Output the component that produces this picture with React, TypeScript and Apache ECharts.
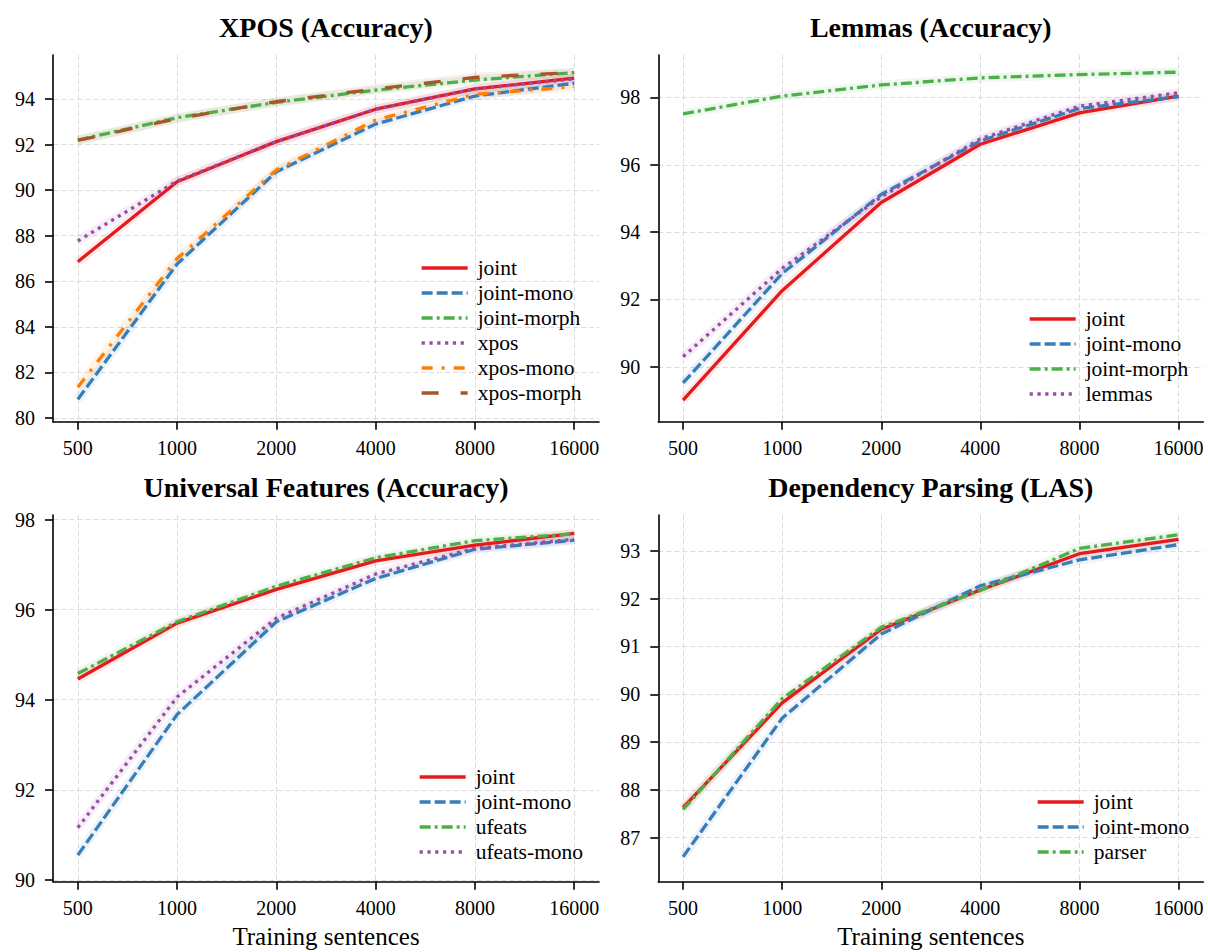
import React, { useEffect, useRef } from "react";
import * as echarts from "echarts";

const FONT = '"Liberation Serif", "Times New Roman", Times, serif';

// ---------- data ----------
const xLabels = ["500", "1000", "2000", "4000", "8000", "16000"];

// XPOS (Accuracy)
const xposJoint = [86.86, 90.37, 92.13, 93.55, 94.44, 94.92];
const xposJointMono = [80.82, 86.76, 90.81, 92.9, 94.13, 94.69];
const xposJointMorph = [92.2, 93.18, 93.85, 94.39, 94.83, 95.16];
const xposXpos = [87.77, 90.4, 92.13, 93.55, 94.44, 94.88];
const xposXposMono = [81.35, 87.0, 90.88, 93.08, 94.2, 94.54];
const xposXposMorph = [92.18, 93.14, 93.88, 94.44, 94.95, 95.16];
const xposTicks = [80, 82, 84, 86, 88, 90, 92, 94];

// Lemmas (Accuracy)
const lemJoint = [89.01, 92.26, 94.88, 96.61, 97.54, 98.04];
const lemJointMono = [89.52, 92.77, 95.12, 96.71, 97.67, 98.02];
const lemJointMorph = [97.51, 98.04, 98.37, 98.58, 98.68, 98.75];
const lemLemmas = [90.3, 92.92, 95.05, 96.77, 97.74, 98.14];
const lemTicks = [90, 92, 94, 96, 98];

// Universal Features (Accuracy)
const ufJoint = [94.46, 95.7, 96.45, 97.08, 97.43, 97.69];
const ufJointMono = [90.55, 93.67, 95.73, 96.69, 97.34, 97.54];
const ufUfeats = [94.58, 95.73, 96.52, 97.15, 97.53, 97.68];
const ufUfeatsMono = [91.16, 94.06, 95.81, 96.79, 97.36, 97.56];
const ufTicks = [90, 92, 94, 96, 98];

// Dependency Parsing (LAS)
const lasJoint = [87.63, 89.82, 91.36, 92.18, 92.94, 93.24];
const lasJointMono = [86.6, 89.5, 91.26, 92.27, 92.81, 93.13];
const lasParser = [87.59, 89.91, 91.4, 92.17, 93.05, 93.34];
const lasTicks = [87, 88, 89, 90, 91, 92, 93];

const titles = [
  "XPOS (Accuracy)",
  "Lemmas (Accuracy)",
  "Universal Features (Accuracy)",
  "Dependency Parsing (LAS)",
];
const xName = "Training sentences";

// ---------- styles ----------
type Sty = { color: string; dash: any };
const STY: Record<string, Sty> = {
  solid: { color: "#e41a1c", dash: "solid" },
  dashed: { color: "#377eb8", dash: [11, 4] },
  dashdot: { color: "#4daf4a", dash: [11, 4, 3, 4] },
  dotted: { color: "#984ea3", dash: [3.2, 4.6] },
  orange: { color: "#ff7f00", dash: [11, 9, 3, 9] },
  brown: { color: "#a65628", dash: [17, 22] },
};
const LW = 3.3;

type Panel = {
  grid: { left: number; top: number; width: number; height: number };
  yMin: number;
  yMax: number;
  yTicks: number[];
  series: { name: string; data: number[]; sty: string }[];
  legend: { left: number; top: number };
  titleY: number;
  xName: boolean;
};

const W = 546;
const H = 366.7;
const panels: Panel[] = [
  {
    grid: { left: 53, top: 55, width: W, height: H },
    yMin: 79.84,
    yMax: 95.93,
    yTicks: xposTicks,
    series: [
      { name: "joint", data: xposJoint, sty: "solid" },
      { name: "joint-mono", data: xposJointMono, sty: "dashed" },
      { name: "joint-morph", data: xposJointMorph, sty: "dashdot" },
      { name: "xpos", data: xposXpos, sty: "dotted" },
      { name: "xpos-mono", data: xposXposMono, sty: "orange" },
      { name: "xpos-morph", data: xposXposMorph, sty: "brown" },
    ],
    legend: { left: 420, top: 255.5 },
    titleY: 27,
    xName: false,
  },
  {
    grid: { left: 658.3, top: 55, width: 545, height: H },
    yMin: 88.37,
    yMax: 99.26,
    yTicks: lemTicks,
    series: [
      { name: "joint", data: lemJoint, sty: "solid" },
      { name: "joint-mono", data: lemJointMono, sty: "dashed" },
      { name: "joint-morph", data: lemJointMorph, sty: "dashdot" },
      { name: "lemmas", data: lemLemmas, sty: "dotted" },
    ],
    legend: { left: 1028, top: 306.5 },
    titleY: 27,
    xName: false,
  },
  {
    grid: { left: 53, top: 515, width: W, height: H },
    yMin: 89.96,
    yMax: 98.1,
    yTicks: ufTicks,
    series: [
      { name: "joint", data: ufJoint, sty: "solid" },
      { name: "joint-mono", data: ufJointMono, sty: "dashed" },
      { name: "ufeats", data: ufUfeats, sty: "dashdot" },
      { name: "ufeats-mono", data: ufUfeatsMono, sty: "dotted" },
    ],
    legend: { left: 418, top: 764.5 },
    titleY: 487,
    xName: true,
  },
  {
    grid: { left: 658.3, top: 515, width: 545, height: H },
    yMin: 86.08,
    yMax: 93.75,
    yTicks: lasTicks,
    series: [
      { name: "joint", data: lasJoint, sty: "solid" },
      { name: "joint-mono", data: lasJointMono, sty: "dashed" },
      { name: "parser", data: lasParser, sty: "dashdot" },
    ],
    legend: { left: 1036, top: 789.5 },
    titleY: 487,
    xName: true,
  },
];

function buildOption() {
  const grid: any[] = [];
  const xAxis: any[] = [];
  const yAxis: any[] = [];
  const series: any[] = [];
  const legend: any[] = [];
  const graphic: any[] = [];
  const xIdx = xLabels.map((_, i) => i);

  panels.forEach((p, pi) => {
    grid.push({ ...p.grid, containLabel: false });
    const axisLine = { show: true, onZero: false, lineStyle: { color: "#000", width: 1.6 } };
    const axisTick = { show: true, length: 8, lineStyle: { color: "#000", width: 1.6 } };
    const splitLine = { show: true, lineStyle: { color: "#dcdcdc", width: 1, type: [5, 3] } };
    xAxis.push({
      type: "value",
      gridIndex: pi,
      min: -0.25,
      max: xLabels.length - 0.75,
      axisLine,
      axisTick: { ...axisTick, customValues: xIdx },
      axisLabel: {
        customValues: xIdx,
        formatter: (v: number) => xLabels[Math.round(v)] ?? "",
        fontFamily: FONT,
        fontSize: 20,
        color: "#000",
        margin: 16,
      },
      splitLine,
    });
    yAxis.push({
      type: "value",
      gridIndex: pi,
      min: p.yMin,
      max: p.yMax,
      axisLine,
      axisTick: { ...axisTick, customValues: p.yTicks },
      axisLabel: {
        customValues: p.yTicks,
        fontFamily: FONT,
        fontSize: 20,
        color: "#000",
        margin: 18,
      },
      splitLine,
    });
    p.series.forEach((s, si) => {
      const st = STY[s.sty];
      const pts = s.data.map((v, i) => [xIdx[i], v]);
      // faint confidence halo
      series.push({
        type: "line",
        name: `${s.name}__band${pi}`,
        xAxisIndex: pi,
        yAxisIndex: pi,
        data: pts,
        symbol: "none",
        silent: true,
        z: 1,
        lineStyle: { color: st.color, width: 9, opacity: 0.09, type: "solid" },
      });
      series.push({
        type: "line",
        name: s.name,
        xAxisIndex: pi,
        yAxisIndex: pi,
        data: pts,
        symbol: "none",
        z: 2 + si,
        lineStyle: { color: st.color, width: LW, type: st.dash },
        itemStyle: { color: st.color },
      });
    });
    legend.push({
      orient: "vertical",
      left: p.legend.left,
      top: p.legend.top,
      padding: 0,
      itemGap: 0,
      itemWidth: 46,
      itemHeight: 14,
      selectedMode: false,
      textStyle: {
        fontFamily: FONT,
        fontSize: 21.5,
        color: "#000",
        lineHeight: 25,
        padding: [0, 0, 0, 5],
      },
      data: p.series.map((s) => ({
        name: s.name,
        lineStyle: { color: STY[s.sty].color, width: LW, type: STY[s.sty].dash },
        itemStyle: {
          color: "rgba(0,0,0,0)",
          borderColor: "rgba(0,0,0,0)",
          borderWidth: 0,
          opacity: 0,
        },
      })),
    });
    const cx = p.grid.left + p.grid.width / 2;
    graphic.push({
      type: "text",
      x: cx,
      y: p.titleY,
      style: {
        text: titles[pi],
        fontFamily: FONT,
        fontWeight: "bold",
        fontSize: 28,
        fill: "#000",
        align: "center",
        verticalAlign: "middle",
      },
    });
    if (p.xName) {
      graphic.push({
        type: "text",
        x: cx,
        y: 936,
        style: {
          text: xName,
          fontFamily: FONT,
          fontSize: 25,
          fill: "#000",
          align: "center",
          verticalAlign: "middle",
        },
      });
    }
  });

  return {
    animation: false,
    backgroundColor: "#fff",
    grid,
    xAxis,
    yAxis,
    series,
    legend,
    graphic,
  };
}

export default function App() {
  const ref = useRef<HTMLDivElement>(null);
  useEffect(() => {
    if (!ref.current) return;
    const chart = echarts.init(ref.current, undefined, { renderer: "svg" });
    chart.setOption(buildOption() as any);
    return () => chart.dispose();
  }, []);
  return (
    <div
      ref={ref}
      style={{ position: "absolute", left: 0, top: 0, width: 1208, height: 952, background: "#fff" }}
    />
  );
}
